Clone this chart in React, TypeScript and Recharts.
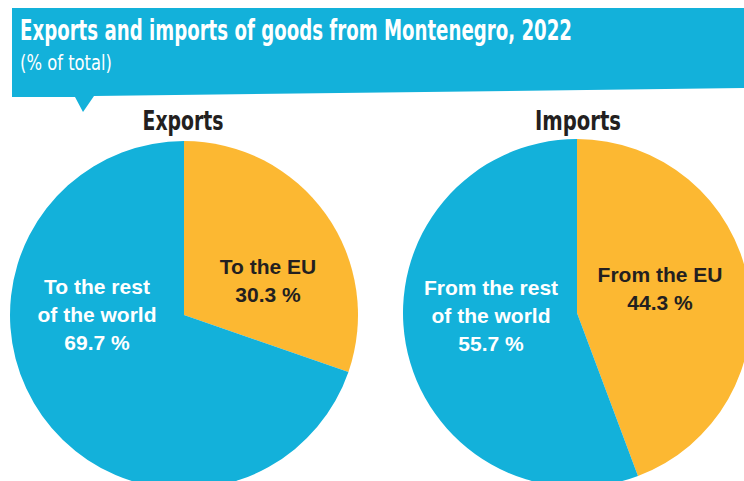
import React from "react";
import { PieChart, Pie, Cell } from "recharts";

const exportsNames = ["To the EU", "To the rest of the world"];
const exportsValues = [30.3, 69.7];
const importsNames = ["From the EU", "From the rest of the world"];
const importsValues = [44.3, 55.7];

const exportsLabelLines = [["To the EU"], ["To the rest", "of the world"]];
const importsLabelLines = [["From the EU"], ["From the rest", "of the world"]];

const BLUE = "#13b1da";
const ORANGE = "#fcb832";
const DARK = "#231f20";
const COLORS = [ORANGE, BLUE];
const TEXT_COLORS = [DARK, "#ffffff"];

const exportsData = exportsNames.map((name, i) => ({ name, value: exportsValues[i] }));
const importsData = importsNames.map((name, i) => ({ name, value: importsValues[i] }));

const labelFont = "'Liberation Sans', Arial, sans-serif";
const condFont = "'DejaVu Sans Condensed', 'Liberation Sans Narrow', sans-serif";

// label anchor offsets from pie centre (EU slice, rest slice)
const exportsOffsets = [
  { dx: 84, dy: -35 },
  { dx: -87, dy: -1 },
];
const importsOffsets = [
  { dx: 83, dy: -25 },
  { dx: -86, dy: 2 },
];

const makeLabel =
  (lines: string[][], offsets: { dx: number; dy: number }[]) =>
  (props: any) => {
    const { cx, cy, index, value } = props;
    const rows = [...lines[index], `${value.toFixed(1)} %`];
    const x = cx + offsets[index].dx;
    const mid = cy + offsets[index].dy;
    const step = 28;
    const top = mid - ((rows.length - 1) * step) / 2;
    return (
      <text
        key={`lbl-${index}`}
        x={x}
        textAnchor="middle"
        fill={TEXT_COLORS[index]}
        fontFamily={labelFont}
        fontWeight={700}
        fontSize={21}
      >
        {rows.map((r, i) => (
          <tspan key={i} x={x} y={top + i * step + 8}>
            {r}
          </tspan>
        ))}
      </text>
    );
  };

// squeezed text: final on-screen width = width
const Squeezed = ({ x, y, width, size, bold, fill, anchor, children }: any) => {
  const sx = 0.75;
  return (
    <g transform={`translate(${x},${y}) scale(${sx},1)`}>
      <text
        x={0}
        y={0}
        textAnchor={anchor || "start"}
        fill={fill}
        fontFamily={condFont}
        fontWeight={bold ? 700 : 400}
        fontSize={size}
        textLength={width / sx}
        lengthAdjust="spacingAndGlyphs"
      >
        {children}
      </text>
    </g>
  );
};

const App: React.FC = () => {
  return (
    <div style={{ position: "absolute", left: 0, top: 0, width: 744, height: 481, background: "#fff", overflow: "hidden" }}>
      <svg width={744} height={481} style={{ position: "absolute", left: 0, top: 0 }}>
        <polygon points="12,8 744,8 744,88 94,96 83,112 75,97 12,97" fill={BLUE} />
        <Squeezed x={20} y={40} width={552} size={28} bold fill="#fff">
          Exports and imports of goods from Montenegro, 2022
        </Squeezed>
        <Squeezed x={20} y={70} width={92} size={22} fill="#fff">
          (% of total)
        </Squeezed>
        <Squeezed x={183} y={130} width={81} size={26} bold fill={DARK} anchor="middle">
          Exports
        </Squeezed>
        <Squeezed x={578} y={130} width={86} size={26} bold fill={DARK} anchor="middle">
          Imports
        </Squeezed>
      </svg>
      <div style={{ position: "absolute", left: 0, top: 0 }}>
        <PieChart width={744} height={481} margin={{ top: 0, right: 0, bottom: 0, left: 0 }}>
          <Pie
            data={exportsData}
            dataKey="value"
            cx={184}
            cy={315}
            outerRadius={174}
            startAngle={90}
            endAngle={-270}
            stroke="none"
            labelLine={false}
            label={makeLabel(exportsLabelLines, exportsOffsets)}
            isAnimationActive={false}
          >
            {exportsData.map((_, i) => (
              <Cell key={`e-${i}`} fill={COLORS[i]} />
            ))}
          </Pie>
          <Pie
            data={importsData}
            dataKey="value"
            cx={577}
            cy={313}
            outerRadius={174}
            startAngle={90}
            endAngle={-270}
            stroke="none"
            labelLine={false}
            label={makeLabel(importsLabelLines, importsOffsets)}
            isAnimationActive={false}
          >
            {importsData.map((_, i) => (
              <Cell key={`i-${i}`} fill={COLORS[i]} />
            ))}
          </Pie>
        </PieChart>
      </div>
    </div>
  );
};

export default App;
